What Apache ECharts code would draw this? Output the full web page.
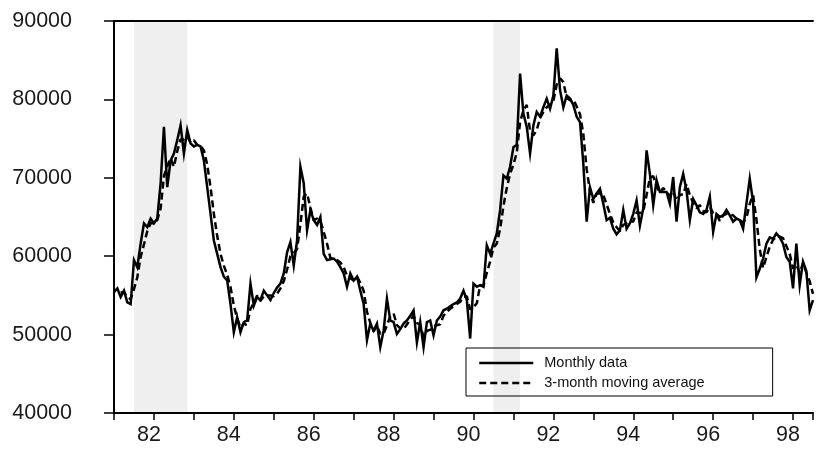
<!DOCTYPE html>
<html>
<head>
<meta charset="utf-8">
<script src="https://cdn.jsdelivr.net/npm/echarts@6/dist/echarts.min.js"></script>
<style>
html,body{margin:0;padding:0;background:#fff;}
#c{width:816px;height:452px;}
</style>
</head>
<body>
<div id="c"></div>
<script>
// Monthly series starting January 1981
const startYear = 1981;
const monthlyData = [
55400,55900,54800,55600,54100,53900,59500,58600,61600,64200,
63700,64800,64200,64800,69300,76500,68800,72200,73100,74800,
76700,73100,76100,74400,74000,74200,74000,72200,68800,65400,
62000,60300,58600,57400,56900,53900,50300,52200,50300,51600,
51800,56500,53700,54800,54400,55600,55000,54400,55300,56000,
56500,57800,60500,61800,58800,62000,71400,69300,63300,65900,
64600,64000,65000,60300,59500,59600,59700,59300,58600,57800,
56100,57800,56900,57400,55600,53900,49300,51400,50500,51400,
48400,50500,54600,51800,51600,50100,50700,51400,51800,52400,
53100,49000,51600,48400,51600,51800,49900,51800,52300,53100,
53300,53600,53900,54100,54600,55600,54400,49500,56500,56100,
56300,56100,61400,60300,61600,62900,65900,70300,69900,71400,
73900,74200,83300,78200,76500,73100,76700,78400,77800,79000,
80100,78800,80500,86500,81200,79000,80500,80100,79300,77800,
77100,71800,64400,68800,67300,68000,68600,66700,64600,64900,
63500,62800,63300,65900,63500,64200,65400,67100,63900,66100,
73500,70500,66500,69700,68200,68200,68200,66700,70100,64400,
68800,70500,68400,64600,67300,66500,65600,65400,65900,67600,
63100,65400,65000,65200,65900,65200,64400,64800,64600,63500,
66700,69900,66900,57300,58400,59700,61600,62400,62200,62900,
62400,61600,59900,59300,55900,61600,56300,59300,58100,53100,
54400
];
const movingAvg = [
null,null,55400,55400,54800,54500,55800,57300,59900,61500,
63200,64200,64200,64600,66100,70200,71500,72500,71400,73400,
74900,74900,75300,74500,74800,74200,74100,73500,71700,68800,
65400,62600,60300,58800,57600,56100,53700,52100,50900,51400,
51200,53300,54000,55000,54300,54900,55000,55000,54900,55200,
55900,56800,58300,60000,60400,60900,64100,67600,68000,66200,
64600,64800,64500,63100,61600,59800,59600,59500,59200,58600,
57500,57200,56900,57400,56600,55600,52900,51500,50400,51100,
50100,50100,51200,52300,52700,51200,50800,50700,51300,51900,
52400,51500,51200,49700,50500,50600,51100,51200,51300,52400,
52900,53300,53600,53900,54200,54800,54900,53200,53500,54000,
56300,56200,57900,59300,61100,61600,63500,66400,68700,70500,
71700,73200,77100,78600,79300,75900,75400,76100,77600,78400,
79000,79300,79800,81900,82700,82200,80200,79900,80000,79100,
78100,75600,71100,68300,66800,68000,68000,67800,66600,65400,
64300,63700,63200,64000,64200,64500,64400,65600,65500,65700,
67800,70000,70200,68900,68100,68700,68200,67700,68300,67100,
67800,67900,69200,67800,66800,66100,66500,65800,65600,66300,
65500,65400,64500,65200,65400,65400,65200,64800,64600,64300,
64900,66700,67800,64700,60900,58500,59900,61200,62100,62500,
62500,62300,61300,60300,58400,58900,57900,59100,57900,56800,
55200
];
// Recession periods (decimal years)
const recessions = [[1981.5, 1982.833], [1990.5, 1991.167]];
const yTicks = [40000, 50000, 60000, 70000, 80000, 90000];
const seriesNames = ['Monthly data', '3-month moving average'];

const font = "'Liberation Sans', Arial, Helvetica, sans-serif";
const toPairs = arr => arr.map((v, i) => [startYear + i / 12, v]);

const chart = echarts.init(document.getElementById('c'), null, {renderer: 'canvas'});
chart.setOption({
  animation: false,
  backgroundColor: '#ffffff',
  grid: {left: 114, right: 0, top: 21, bottom: 39},
  legend: {
    data: seriesNames,
    orient: 'vertical',
    left: 466, top: 348,
    padding: [7, 68, 5, 12],
    itemWidth: 54, itemHeight: 14, itemGap: 4,
    borderColor: '#000', borderWidth: 1,
    itemStyle: {opacity: 0},
    lineStyle: {width: 2.5},
    textStyle: {fontFamily: font, fontSize: 14.5, color: '#111', lineHeight: 16, padding: [0, 0, 0, 6]},
    selectedMode: false
  },
  xAxis: [{
    type: 'value', min: 1981, max: 1998.5, interval: 1, position: 'bottom', z: 10,
    axisLine: {show: true, onZero: false, lineStyle: {color: '#000', width: 2}},
    axisTick: {show: true, length: 7, lineStyle: {color: '#000', width: 1.5}},
    axisLabel: {
      fontFamily: font, fontSize: 21.5, color: '#1a1a1a', margin: 11,
      padding: [0, 10, 0, 0],
      formatter: v => (Math.abs(v - Math.round(v)) < 1e-6 && Math.round(v) % 2 === 0) ? String(Math.round(v)).slice(2) : ''
    },
    splitLine: {show: false}
  }, {
    type: 'value', min: 1981, max: 1998.5, position: 'top', z: 10,
    axisLine: {show: true, onZero: false, lineStyle: {color: '#000', width: 2}},
    axisTick: {show: false}, axisLabel: {show: false}, splitLine: {show: false}
  }],
  yAxis: {
    type: 'value', min: yTicks[0], max: yTicks[yTicks.length - 1], interval: 10000, z: 10,
    axisLine: {show: true, onZero: false, lineStyle: {color: '#000', width: 2}},
    axisTick: {show: true, length: 10, lineStyle: {color: '#000', width: 1.5}},
    axisLabel: {fontFamily: font, fontSize: 21.5, color: '#1a1a1a', margin: 42, padding: [0, 0, 7, 0],
      formatter: v => String(v)},
    splitLine: {show: false}
  },
  series: [{
    name: 'recessions', type: 'line', data: [], z: 1, silent: true,
    markArea: {silent: true, itemStyle: {color: '#efefef'},
      data: recessions.map(r => [{xAxis: r[0]}, {xAxis: r[1]}])}
  }, {
    name: seriesNames[0], type: 'line', data: toPairs(monthlyData), z: 4,
    symbol: 'none', lineStyle: {color: '#000', width: 2.5, join: 'miter'}, itemStyle: {color: '#000'}
  }, {
    name: seriesNames[1], type: 'line', data: toPairs(movingAvg), z: 3,
    symbol: 'none', lineStyle: {color: '#000', width: 2.5, type: [7, 4]}, itemStyle: {color: '#000'}
  }]
});
</script>
</body>
</html>
